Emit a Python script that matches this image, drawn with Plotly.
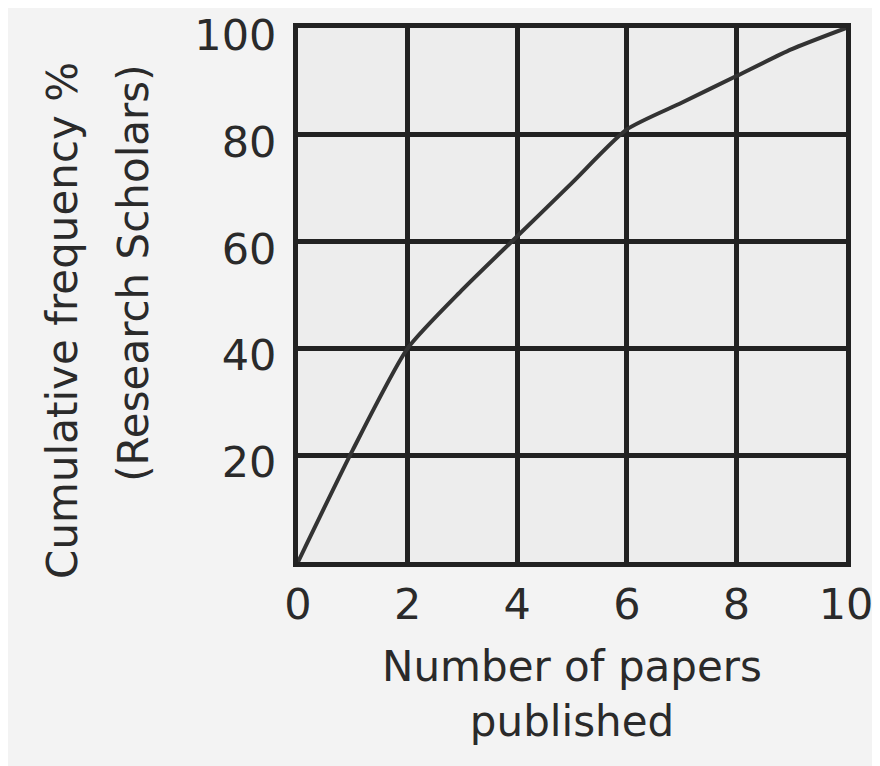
import plotly.graph_objects as go

papers = [0, 1, 2, 3, 4, 5, 6, 7, 8, 9, 10]
cum_freq = [0, 21, 40, 51, 61, 71, 81, 86, 91, 96, 100]

x_ticks = [0, 2, 4, 6, 8, 10]
y_ticks = [20, 40, 60, 80, 100]

FONT = "DejaVu Sans, Verdana, sans-serif"
INK = "#2a2a2a"

fig = go.Figure()
fig.add_trace(go.Scatter(
    x=papers, y=cum_freq, mode="lines",
    line=dict(color="#333333", width=4, shape="spline", smoothing=0.6),
    showlegend=False, hoverinfo="skip",
))

fig.update_layout(
    width=880, height=766,
    margin=dict(l=290, r=42, t=20, b=212, autoexpand=False),
    paper_bgcolor="#f3f3f3", plot_bgcolor="#ededed",
    font=dict(family=FONT, size=43, color=INK),
    showlegend=False,
)
fig.update_xaxes(
    range=[0, 10], tickvals=x_ticks, ticktext=[str(v) for v in x_ticks],
    showgrid=True, gridcolor="#222222", gridwidth=5,
    showline=True, linecolor="#222222", linewidth=5, mirror=True,
    zeroline=False, ticks="", ticklen=0, ticklabeloverflow="allow",
    automargin=False,
    tickfont=dict(size=43, color=INK),
    title=dict(text="Number of papers<br>published", font=dict(size=42, color=INK), standoff=26),
)
fig.update_yaxes(
    range=[0, 100], tickvals=y_ticks, ticktext=[str(v) for v in y_ticks],
    showgrid=True, gridcolor="#222222", gridwidth=5,
    showline=True, linecolor="#222222", linewidth=5, mirror=True,
    zeroline=False, ticks="", ticklen=0, ticklabelstandoff=8,
    ticklabelshift=7,
    ticklabeloverflow="allow", automargin=False,
    tickfont=dict(size=43, color=INK),
)
fig.add_annotation(
    text="Cumulative frequency %", xref="paper", yref="paper",
    x=-0.43, y=0.94, xanchor="center", yanchor="top", textangle=-90,
    showarrow=False, font=dict(size=42, color=INK, family=FONT),
)
fig.add_annotation(
    text="(Research Scholars)", xref="paper", yref="paper",
    x=-0.30, y=0.935, xanchor="center", yanchor="top", textangle=-90,
    showarrow=False, font=dict(size=42, color=INK, family=FONT),
)

fig.write_html("out.html")
